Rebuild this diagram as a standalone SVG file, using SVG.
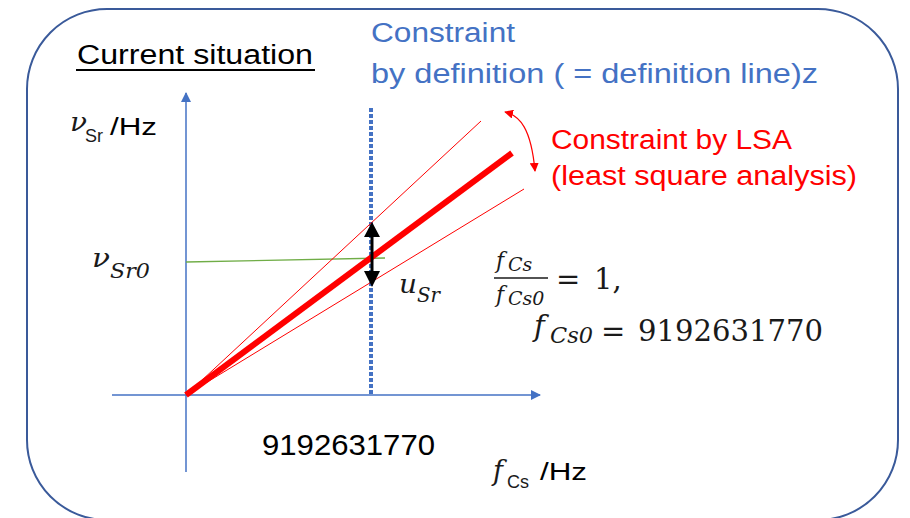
<svg xmlns="http://www.w3.org/2000/svg" width="910" height="518" viewBox="0 0 910 518">
<style>
.sans{font-family:"Liberation Sans","Open Sans",sans-serif}
.math{font-family:"DejaVu Serif","Liberation Serif",serif;font-style:italic;fill:#1a1a1a}
.num{font-family:"DejaVu Serif","Liberation Serif",serif;fill:#1a1a1a}
.blue{fill:#4472C4}
.red{fill:#FF0000}
.axis{stroke:#4472C4;stroke-width:1.5;fill:none}
</style>
<defs>
<marker id="axArrow" viewBox="0 0 10 10" refX="9" refY="5" markerWidth="10" markerHeight="10" markerUnits="userSpaceOnUse" orient="auto"><path d="M0,0 L10,5 L0,10 z" fill="#4472C4"/></marker>
<marker id="redArrow" viewBox="0 0 10 10" refX="9" refY="5" markerWidth="9" markerHeight="9" markerUnits="userSpaceOnUse" orient="auto-start-reverse"><path d="M0,0 L10,5 L0,10 z" fill="#FF0000"/></marker>
</defs>
<rect width="910" height="518" fill="#ffffff"/>
<rect id="frame" x="27" y="9" width="871" height="511" rx="80" ry="80" fill="none" stroke="#3A5A9A" stroke-width="2"/>

<g id="title">
<text class="sans" x="77" y="64" font-size="27" fill="#000" textLength="236" lengthAdjust="spacingAndGlyphs">Current situation</text>
<line x1="76" y1="70" x2="315" y2="70" stroke="#000" stroke-width="2"/>
</g>

<g id="connectors">
<line id="xaxis" class="axis" x1="112" y1="395" x2="540" y2="395" marker-end="url(#axArrow)"/>
<line id="yaxis" class="axis" x1="186" y1="472" x2="186" y2="93" marker-end="url(#axArrow)"/>
<line id="defline" x1="371" y1="108" x2="371" y2="395" stroke="#4472C4" stroke-width="4" stroke-dasharray="4 2"/>
<line id="green" x1="186" y1="262" x2="385" y2="258" stroke="#70AD47" stroke-width="1.3"/>
<line id="upper" x1="186" y1="395" x2="481" y2="121" stroke="#FF0000" stroke-width="1"/>
<line id="lower" x1="186" y1="395" x2="524" y2="189" stroke="#FF0000" stroke-width="1"/>
<line id="main" x1="186" y1="395" x2="512" y2="153" stroke="#FF0000" stroke-width="6"/>
<g id="uncert">
<line x1="372" y1="234" x2="372" y2="274" stroke="#000" stroke-width="3"/>
<path d="M372,222 L380,237 L364,237 z" fill="#000"/>
<path d="M372,287 L380,271 L364,271 z" fill="#000"/>
</g>
<path id="lsaArrow" d="M505,112 C520,116 531,128 535,171" fill="none" stroke="#FF0000" stroke-width="1.2" marker-start="url(#redArrow)" marker-end="url(#redArrow)"/>
</g>

<g id="defLabel">
<text class="sans blue" x="371" y="42" font-size="27" textLength="144" lengthAdjust="spacingAndGlyphs">Constraint</text>
<text class="sans blue" x="371" y="83" font-size="27" textLength="447" lengthAdjust="spacingAndGlyphs">by definition ( = definition line)z</text>
</g>

<g id="lsaLabel">
<text class="sans red" x="551" y="149" font-size="27" textLength="241" lengthAdjust="spacingAndGlyphs">Constraint by LSA</text>
<text class="sans red" x="551" y="185" font-size="27" textLength="306" lengthAdjust="spacingAndGlyphs">(least square analysis)</text>
</g>

<g id="yLabel">
<text class="math" x="70" y="131" font-size="26" textLength="17" lengthAdjust="spacingAndGlyphs">ν</text>
<text class="sans" x="85" y="142" font-size="18" fill="#1a1a1a">Sr</text>
<text class="sans" x="110" y="135" font-size="23" fill="#000" textLength="47" lengthAdjust="spacingAndGlyphs">/Hz</text>
</g>

<g id="ySr0">
<text class="math" x="92" y="267" font-size="26" textLength="18" lengthAdjust="spacingAndGlyphs">ν</text>
<text class="math" x="110" y="278" font-size="21" textLength="40" lengthAdjust="spacingAndGlyphs">Sr0</text>
</g>

<g id="uSr">
<text class="math" x="399" y="293" font-size="26" textLength="18" lengthAdjust="spacingAndGlyphs">u</text>
<text class="math" x="417" y="302" font-size="20" textLength="23" lengthAdjust="spacingAndGlyphs">Sr</text>
</g>

<g id="formula">
<text class="math" x="496" y="268" font-size="22">f</text>
<text class="math" x="508" y="271" font-size="19">Cs</text>
<line x1="494" y1="278" x2="548" y2="278" stroke="#1a1a1a" stroke-width="1.5"/>
<text class="math" x="496" y="302" font-size="22">f</text>
<text class="math" x="508" y="305" font-size="19">Cs0</text>
<text class="num" x="556" y="289" font-size="29">=</text>
<text class="num" x="594" y="289" font-size="29">1,</text>
<text class="math" x="534" y="336" font-size="29">f</text>
<text class="math" x="550" y="343" font-size="22" textLength="43" lengthAdjust="spacingAndGlyphs">Cs0</text>
<text class="num" x="601" y="341" font-size="29">=</text>
<text class="num" x="638" y="341" font-size="29" textLength="185" lengthAdjust="spacingAndGlyphs">9192631770</text>
</g>

<g id="xTick">
<text class="sans" x="262" y="455" font-size="30" fill="#000" textLength="173" lengthAdjust="spacingAndGlyphs">9192631770</text>
</g>

<g id="xLabel">
<text class="math" x="493" y="480" font-size="27">f</text>
<text class="sans" x="507" y="488" font-size="18" fill="#1a1a1a">Cs</text>
<text class="sans" x="540" y="480" font-size="23" fill="#000" textLength="47" lengthAdjust="spacingAndGlyphs">/Hz</text>
</g>
</svg>
